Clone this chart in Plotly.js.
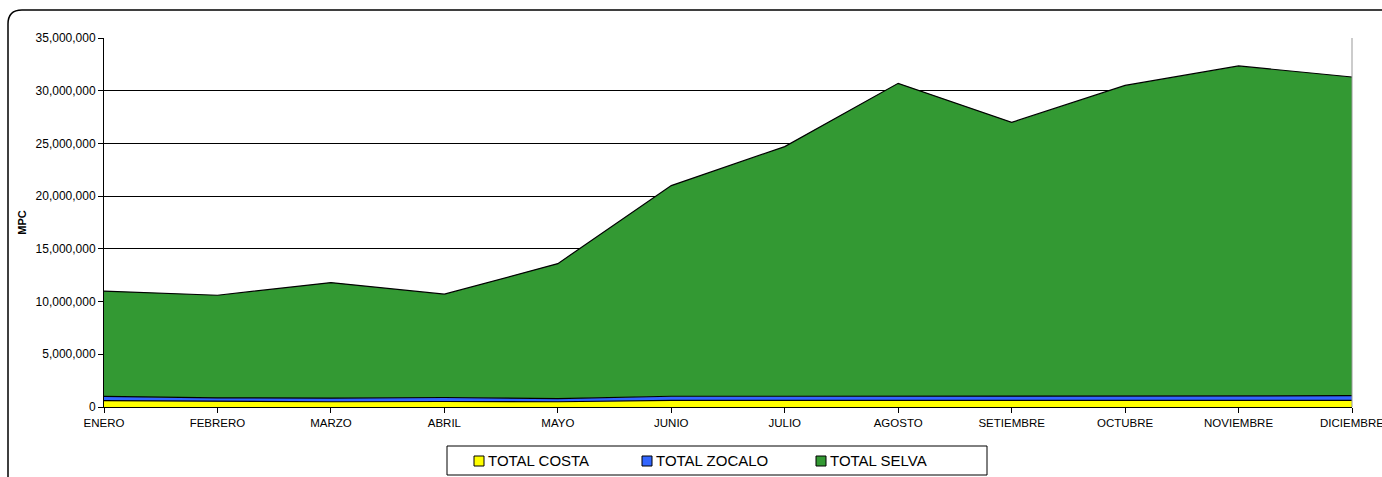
<!DOCTYPE html>
<html>
<head>
<meta charset="utf-8">
<script src="https://cdn.plot.ly/plotly-3.0.1.min.js"></script>
<style>html,body{margin:0;padding:0;background:#fff;}#chart{width:1382px;height:477px;}</style>
</head>
<body>
<div id="chart"></div>
<script>
const months = ["ENERO","FEBRERO","MARZO","ABRIL","MAYO","JUNIO","JULIO","AGOSTO","SETIEMBRE","OCTUBRE","NOVIEMBRE","DICIEMBRE"];
const totalCosta = [600000, 520000, 500000, 520000, 500000, 620000, 620000, 620000, 600000, 620000, 620000, 620000];
const totalZocalo = [400000, 340000, 350000, 380000, 300000, 400000, 400000, 420000, 420000, 430000, 450000, 450000];
const totalSelva = [10000000, 9740000, 10950000, 9800000, 12800000, 19980000, 23680000, 29660000, 25980000, 29450000, 31280000, 30230000];
const seriesNames = ["TOTAL COSTA", "TOTAL ZOCALO", "TOTAL SELVA"];
const seriesColors = ["#FFFF00", "#3366FF", "#339933"];

const W = 1382, H = 477;
const M = {l: 104, r: 30, t: 38, b: 70};
const pw = W - M.l - M.r, ph = H - M.t - M.b;
const px = x => (x - M.l) / pw;
const py = y => (H - M.b - y) / ph;

const data = [totalCosta, totalZocalo, totalSelva].map((vals, i) => ({
  type: "scatter",
  mode: "lines",
  x: months,
  y: vals,
  name: seriesNames[i],
  stackgroup: "one",
  fillcolor: seriesColors[i],
  line: {color: "#000000", width: 1.2},
  hoverinfo: "x+y+name"
}));

// rounded outer border
const L = 8, T = 10, R = 1392, B = 490, rad = 14;
const borderPath = `M ${px(L)},${py(B)} L ${px(L)},${py(T + rad)} Q ${px(L)},${py(T)} ${px(L + rad)},${py(T)} L ${px(R)},${py(T)}`;

const shapes = [
  {type: "path", xref: "paper", yref: "paper", path: borderPath, line: {color: "#000000", width: 1.5}, layer: "above"},
  {type: "line", xref: "paper", yref: "paper", x0: 1, x1: 1, y0: 0, y1: 1, line: {color: "#999999", width: 1}},
  // legend box
  {type: "rect", xref: "paper", yref: "paper", x0: px(447), x1: px(987), y0: py(475), y1: py(446), line: {color: "#000000", width: 1}, fillcolor: "#ffffff"}
];
const annotations = [];
const legendSquareX = [474, 642, 816];
seriesNames.forEach((name, i) => {
  const sx = legendSquareX[i];
  shapes.push({type: "rect", xref: "paper", yref: "paper", x0: px(sx), x1: px(sx + 10), y0: py(466), y1: py(456),
    line: {color: "#000000", width: 1}, fillcolor: seriesColors[i]});
  annotations.push({xref: "paper", yref: "paper", x: px(sx + 12), y: py(461), xanchor: "left", yanchor: "middle",
    text: name, showarrow: false, font: {size: 15}});
});

const layout = {
  width: W, height: H,
  margin: M,
  paper_bgcolor: "#ffffff",
  plot_bgcolor: "#ffffff",
  font: {family: "Liberation Sans, Arial, sans-serif", color: "#000000", size: 11},
  showlegend: false,
  xaxis: {
    type: "category",
    range: [0, 11],
    showline: true, linecolor: "#000000", linewidth: 1,
    ticks: "outside", ticklen: 5, tickcolor: "#000000",
    showgrid: false, zeroline: false,
    tickfont: {size: 11.5},
    fixedrange: true
  },
  yaxis: {
    range: [0, 35000000],
    dtick: 5000000,
    tickformat: ",d",
    showline: true, linecolor: "#000000", linewidth: 1,
    ticks: "outside", ticklen: 5, tickcolor: "#000000",
    showgrid: true, gridcolor: "#000000", gridwidth: 1,
    zeroline: false,
    tickfont: {size: 12},
    title: {text: "<b>MPC</b>", font: {size: 11}, standoff: 6},
    fixedrange: true
  },
  shapes: shapes,
  annotations: annotations
};

Plotly.newPlot("chart", data, layout, {displayModeBar: false, staticPlot: true});
</script>
</body>
</html>
